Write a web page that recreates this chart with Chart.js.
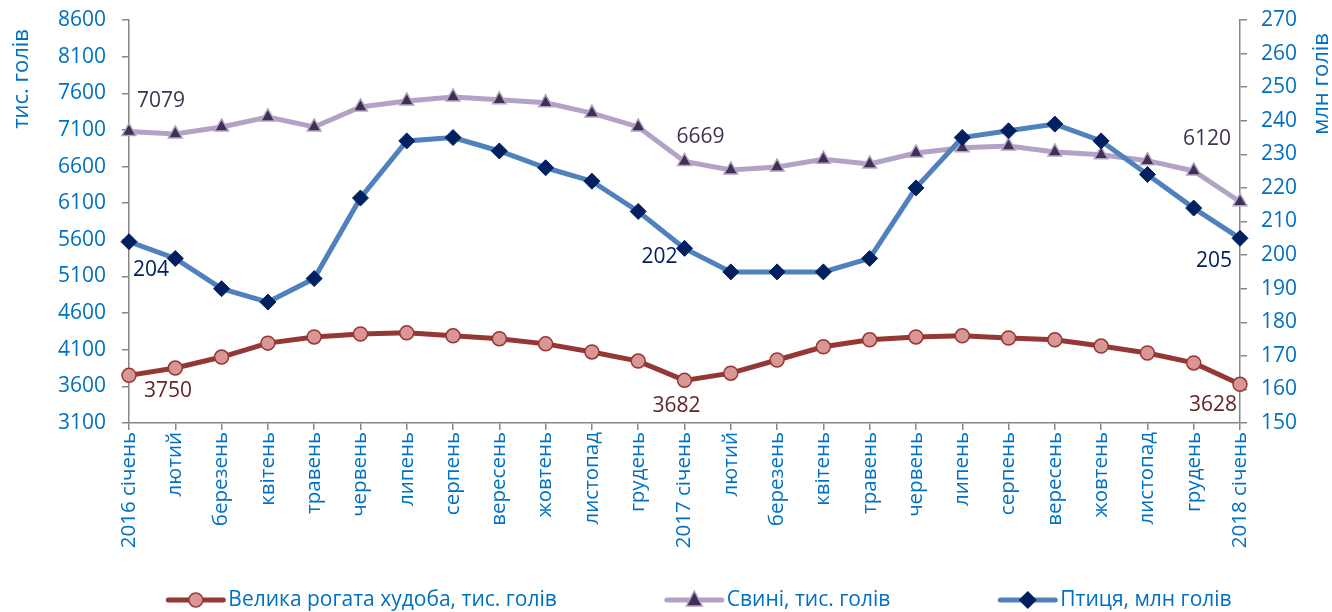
<!DOCTYPE html>
<html>
<head>
<meta charset="utf-8">
<script src="https://cdn.jsdelivr.net/npm/chart.js@4/dist/chart.umd.min.js"></script>
<style>
  html, body { margin: 0; padding: 0; background: #fff; }
  #wrap { width: 1332px; height: 612px; position: relative; }
</style>
</head>
<body>
<div id="wrap"><canvas id="livestock"></canvas></div>
<script>
// --- дані ---
const months = [
  "2016 січень", "лютий", "березень", "квітень", "травень", "червень",
  "липень", "серпень", "вересень", "жовтень", "листопад", "грудень",
  "2017 січень", "лютий", "березень", "квітень", "травень", "червень",
  "липень", "серпень", "вересень", "жовтень", "листопад", "грудень",
  "2018 січень"
];

const cattle = [3750, 3850, 4000, 4190, 4275, 4315, 4330, 4290, 4250, 4180, 4070, 3945,
                3682, 3780, 3960, 4140, 4235, 4275, 4290, 4260, 4235, 4150, 4055, 3920, 3628];
const pigs = [7079, 7045, 7140, 7277, 7140, 7413, 7495, 7550, 7510, 7470, 7330, 7140,
              6669, 6553, 6595, 6700, 6635, 6785, 6855, 6880, 6800, 6760, 6680, 6540, 6120];
const poultry = [204, 199, 190, 186, 193, 217, 234, 235, 231, 226, 222, 213,
                 202, 195, 195, 195, 199, 220, 235, 237, 239, 234, 224, 214, 205];

const seriesNames = ["Велика рогата худоба, тис. голів", "Свині, тис. голів", "Птиця, млн голів"];
const axisTitles = ["тис. голів", "млн голів"];
const leftRange = [3100, 8600, 500];
const rightRange = [150, 270, 10];
const labeledPoints = [0, 12, 24];

const FONT = "'Open Sans', sans-serif";
const BLUE = "#0070C0";

// --- підписи значень на точках ---
const valueLabels = {
  id: "valueLabels",
  afterDatasetsDraw(chart) {
    const ctx = chart.ctx;
    ctx.save();
    ctx.font = "21px " + FONT;
    ctx.textBaseline = "middle";
    chart.data.datasets.forEach((ds, di) => {
      const meta = chart.getDatasetMeta(di);
      labeledPoints.forEach((idx, k) => {
        const pt = meta.data[idx];
        const off = ds.labelOffsets[k];
        ctx.fillStyle = ds.labelColor;
        ctx.textAlign = off[2];
        ctx.fillText(String(ds.data[idx]), pt.x + off[0], pt.y + off[1]);
      });
    });
    ctx.restore();
  }
};

// --- назви осей (обидві читаються знизу вгору) ---
const axisTitlePlugin = {
  id: "axisTitlePlugin",
  afterDraw(chart) {
    const ctx = chart.ctx;
    const top = chart.chartArea.top;
    ctx.save();
    ctx.font = "22px " + FONT;
    ctx.fillStyle = BLUE;
    ctx.textBaseline = "middle";
    ctx.textAlign = "right";
    [[22, top + 9, axisTitles[0]], [chart.width - 10, top + 13, axisTitles[1]]].forEach(([x, y, t]) => {
      ctx.save();
      ctx.translate(x, y);
      ctx.rotate(-Math.PI / 2);
      ctx.fillText(t, 0, 0);
      ctx.restore();
    });
    ctx.restore();
  }
};

// --- маркери ---
function drawMarker(ctx, style, x, y, fill, stroke) {
  ctx.fillStyle = fill;
  ctx.strokeStyle = stroke;
  ctx.lineWidth = 1.5;
  ctx.beginPath();
  if (style === "circle") {
    ctx.arc(x, y, 7, 0, Math.PI * 2);
  } else if (style === "triangle") {
    ctx.moveTo(x, y - 9);
    ctx.lineTo(x + 8, y + 6);
    ctx.lineTo(x - 8, y + 6);
    ctx.closePath();
  } else {
    ctx.moveTo(x, y - 8);
    ctx.lineTo(x + 8, y);
    ctx.lineTo(x, y + 8);
    ctx.lineTo(x - 8, y);
    ctx.closePath();
  }
  ctx.fill();
  ctx.stroke();
}

// --- легенда знизу ---
const bottomLegend = {
  id: "bottomLegend",
  afterDraw(chart) {
    const ctx = chart.ctx;
    const y = 600;
    const lineLen = 55, gapText = 5, gapItem = 110;
    ctx.save();
    ctx.font = "21px " + FONT;
    ctx.textBaseline = "middle";
    ctx.textAlign = "left";
    const widths = chart.data.datasets.map(ds => lineLen + gapText + ctx.measureText(ds.label).width);
    const total = widths.reduce((a, b) => a + b, 0) + gapItem * (widths.length - 1);
    let x = 700 - total / 2;
    chart.data.datasets.forEach((ds, i) => {
      ctx.strokeStyle = ds.borderColor;
      ctx.lineWidth = 5;
      ctx.lineCap = "round";
      ctx.beginPath();
      ctx.moveTo(x, y);
      ctx.lineTo(x + lineLen, y);
      ctx.stroke();
      drawMarker(ctx, ds.pointStyle, x + lineLen / 2, y, ds.pointBackgroundColor, ds.pointBorderColor);
      ctx.fillStyle = BLUE;
      ctx.fillText(ds.label, x + lineLen + gapText, y);
      x += widths[i] + gapItem;
    });
    ctx.restore();
  }
};

// вертикальні осі не просять додаткового відступу зверху/знизу
const noVPad = s => { s.paddingTop = 0; s.paddingBottom = 0; };

const ctx = document.getElementById("livestock").getContext("2d");

new Chart(ctx, {
  type: "line",
  data: {
    labels: months,
    datasets: [
      {
        label: seriesNames[0],
        data: cattle,
        yAxisID: "y",
        borderColor: "#953735",
        borderWidth: 5,
        pointStyle: "circle",
        pointRadius: 7,
        pointBackgroundColor: "#D99694",
        pointBorderColor: "#953735",
        pointBorderWidth: 1.5,
        labelColor: "#632523",
        labelOffsets: [[15, 16, "left"], [-8, 26, "center"], [-3, 21, "right"]],
        order: 3
      },
      {
        label: seriesNames[1],
        data: pigs,
        yAxisID: "y",
        borderColor: "#B3A2C7",
        borderWidth: 5,
        pointStyle: "triangle",
        pointRadius: 8,
        pointBackgroundColor: "#403152",
        pointBorderColor: "#B3A2C7",
        pointBorderWidth: 1.5,
        labelColor: "#403152",
        labelOffsets: [[8, -30, "left"], [16, -24, "center"], [-9, -63, "right"]],
        order: 2
      },
      {
        label: seriesNames[2],
        data: poultry,
        yAxisID: "y1",
        borderColor: "#4F81BD",
        borderWidth: 5,
        pointStyle: "rectRot",
        pointRadius: 8,
        pointBackgroundColor: "#002060",
        pointBorderColor: "#002060",
        pointBorderWidth: 1,
        labelColor: "#002060",
        labelOffsets: [[4, 28, "left"], [-7, 9, "right"], [-8, 23, "right"]],
        order: 1
      }
    ]
  },
  options: {
    responsive: true,
    maintainAspectRatio: false,
    animation: false,
    layout: { padding: { top: 20, bottom: 0, left: 0, right: 0 } },
    plugins: {
      legend: { display: false },
      tooltip: { enabled: false }
    },
    elements: { line: { tension: 0 } },
    scales: {
      x: {
        offset: false,
        afterFit: s => { s.height = 189; },
        border: { color: "#868686", width: 1.5 },
        grid: { drawOnChartArea: false, drawTicks: true, tickLength: 7, color: "#868686", lineWidth: 1.5 },
        ticks: {
          color: BLUE,
          font: { family: FONT, size: 20.5 },
          minRotation: 90,
          maxRotation: 90,
          autoSkip: false,
          padding: 2
        }
      },
      y: {
        position: "left",
        min: leftRange[0],
        max: leftRange[1],
        afterFit: s => { s.width = 129; noVPad(s); },
        border: { color: "#868686", width: 1.5 },
        grid: { drawOnChartArea: false, drawTicks: true, tickLength: 7, color: "#868686", lineWidth: 1.5 },
        ticks: {
          stepSize: leftRange[2],
          color: BLUE,
          font: { family: FONT, size: 21 },
          padding: 16,
          callback: v => String(v)
        }
      },
      y1: {
        position: "right",
        min: rightRange[0],
        max: rightRange[1],
        afterFit: s => { s.width = 92; noVPad(s); },
        border: { color: "#868686", width: 1.5 },
        grid: { drawOnChartArea: false, drawTicks: true, tickLength: 7, color: "#868686", lineWidth: 1.5 },
        ticks: {
          stepSize: rightRange[2],
          color: BLUE,
          font: { family: FONT, size: 21 },
          padding: 14,
          callback: v => String(v)
        }
      }
    }
  },
  plugins: [valueLabels, axisTitlePlugin, bottomLegend]
});
</script>
</body>
</html>
